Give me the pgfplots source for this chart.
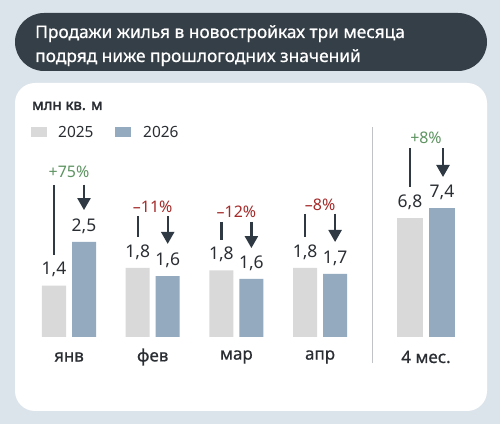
\documentclass[border=0pt]{standalone}
\usepackage{fontspec}
\setmainfont{Noto Sans}
\newfontfamily\medf{Noto Sans}[FakeBold=0.7]
\newfontfamily\boldf{Noto Sans}[FakeBold=2.2]
\usepackage{pgfplots}
\pgfplotsset{compat=1.18}
\usepackage{pgfplotstable}
\usetikzlibrary{arrows.meta}
\definecolor{bg}{HTML}{DCE4EB}
\definecolor{hdr}{HTML}{353F48}
\definecolor{g25}{HTML}{D9D9D9}
\definecolor{b26}{HTML}{93AABF}
\definecolor{txt}{HTML}{2A2E33}
\definecolor{arr}{HTML}{2E3943}
\definecolor{up}{HTML}{5E9462}
\definecolor{dn}{HTML}{A52A2A}
\definecolor{sepc}{HTML}{BFC3C7}

\pgfplotstableread{
x y lab
0 1.35 1,4
1 1.82 1,8
2 1.75 1,8
3 1.82 1,8
}\monthsA
\pgfplotstableread{
x y lab
0 2.50 2,5
1 1.60 1,6
2 1.53 1,6
3 1.66 1,7
}\monthsB
\pgfplotstableread{
x y lab
0 6.8 6,8
}\totA
\pgfplotstableread{
x y lab
0 7.4 7,4
}\totB

\newcommand{\fs}[1]{\fontsize{#1}{#1}\selectfont}
\tikzset{
  ln/.style={line width=2.3bp, draw=arr},
  ar/.style={line width=2.3bp, draw=arr, fill=arr, -{Triangle[width=13bp,length=12bp]}},
}
\pgfplotsset{
  bars/.style={
    scale only axis, ymin=0, clip=false,
    axis line style={draw=none}, ytick=\empty, major tick length=0pt,
    xticklabel style={anchor=center, yshift=-20bp, font=\medf\fs{17}, text=txt},
    nodes near coords, point meta=explicit symbolic,
    every node near coord/.append style={anchor=center, yshift=16bp, font=\fs{17.5}, text=txt},
  },
}

\begin{document}
\begin{tikzpicture}
\fill[bg] (0,0) rectangle (500bp,424bp);
\useasboundingbox (0,0) rectangle (500bp,424bp);
% header
\fill[hdr, rounded corners=29bp] (15bp,353bp) rectangle (487bp,411bp);
\node[anchor=base west, text=white, font=\medf\fs{17.4}, inner sep=0pt] at (35bp,386bp) {Продажи жилья в новостройках три месяца};
\node[anchor=base west, text=white, font=\medf\fs{17.4}, inner sep=0pt] at (35bp,362bp) {подряд ниже прошлогодних значений};
% panel
\fill[white, rounded corners=20bp] (15bp,13bp) rectangle (487bp,341bp);
\node[anchor=west, text=txt, font=\boldf\fs{15}, inner sep=0pt] at (32bp,318bp) {млн кв. м};
% legend
\fill[g25] (31bp,287bp) rectangle (47bp,297bp);
\node[anchor=west, text=txt, font=\fs{15.5}, inner sep=0pt] at (58bp,292bp) {2025};
\fill[b26] (115bp,287bp) rectangle (131bp,297bp);
\node[anchor=west, text=txt, font=\fs{15.5}, inner sep=0pt] at (143bp,292bp) {2026};
% separator
\draw[sepc, line width=1bp] (372bp,61bp) -- (372bp,297bp);

\begin{axis}[bars, at={(27.15bp,87bp)}, anchor=south west,
  width=334.8bp, height=190bp, xmin=-0.5, xmax=3.5, ymax=5,
  ybar=6bp, bar width=24bp,
  xtick={0,1,2,3}, xticklabels={янв,фев,мар,апр}]
\addplot[fill=g25, draw=none] table[x=x, y=y, meta=lab]{\monthsA};
\addplot[fill=b26, draw=none] table[x=x, y=y, meta=lab]{\monthsB};
% annotations
\draw[ln] ([xshift=-15bp]axis cs:0,4.0) -- ([xshift=-15bp]axis cs:0,2.16);
\draw[ar] ([xshift=15bp]axis cs:0,4.0) -- ([xshift=15bp]axis cs:0,3.34);
\node[text=up, font=\fs{16}] at (axis cs:0,4.34) {+75\%};
\draw[ln] ([xshift=-15bp]axis cs:1,3.18) -- ([xshift=-15bp]axis cs:1,2.63);
\draw[ar] ([xshift=15bp]axis cs:1,3.18) -- ([xshift=15bp]axis cs:1,2.45);
\node[text=dn, font=\fs{16}] at (axis cs:1,3.42) {–11\%};
\draw[ln] ([xshift=-15bp]axis cs:2,3.03) -- ([xshift=-15bp]axis cs:2,2.55);
\draw[ar] ([xshift=15bp]axis cs:2,3.03) -- ([xshift=15bp]axis cs:2,2.34);
\node[text=dn, font=\fs{16}] at (axis cs:2,3.30) {–12\%};
\draw[ln] ([xshift=-15bp]axis cs:3,3.24) -- ([xshift=-15bp]axis cs:3,2.63);
\draw[ar] ([xshift=15bp]axis cs:3,3.24) -- ([xshift=15bp]axis cs:3,2.50);
\node[text=dn, font=\fs{16}] at (axis cs:3,3.47) {–8\%};
\end{axis}

\begin{axis}[bars, at={(376bp,87bp)}, anchor=south west,
  width=100bp, height=174.5bp, xmin=-0.5, xmax=0.5, ymax=10,
  ybar=6bp, bar width=26bp,
  xtick={0}, xticklabels={4 мес.}]
\addplot[fill=g25, draw=none] table[x=x, y=y, meta=lab]{\totA};
\addplot[fill=b26, draw=none] table[x=x, y=y, meta=lab]{\totB};
\draw[ln] ([xshift=-16bp]axis cs:0,10.83) -- ([xshift=-16bp]axis cs:0,8.6);
\draw[ar] ([xshift=17bp]axis cs:0,10.83) -- ([xshift=17bp]axis cs:0,9.17);
\node[text=up, font=\fs{16}] at (axis cs:0,11.4) {+8\%};
\end{axis}
\end{tikzpicture}
\end{document}
